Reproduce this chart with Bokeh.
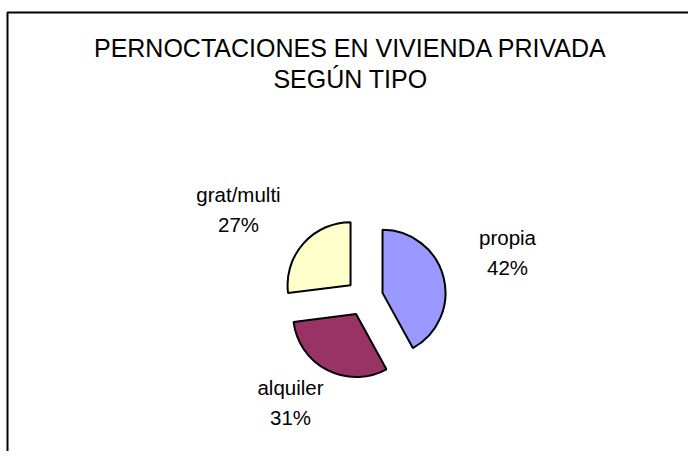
import math
from bokeh.plotting import figure
from bokeh.models import Range1d, BoxAnnotation, ColumnDataSource
from bokeh.core.properties import value
from bokeh.embed import file_html
from bokeh.resources import INLINE

# ---- data ----
title_lines = ["PERNOCTACIONES EN VIVIENDA PRIVADA", "SEGÚN TIPO"]
categories = ["propia", "alquiler", "grat/multi"]
percent = [42, 31, 27]
colors = ["#9999FF", "#993366", "#FFFFCC"]

# ---- layout (pixel-like data units, pie centre at origin) ----
W, H = 688, 451
CX, CY = 364, 297          # pie centre in canvas pixels
RADIUS = 63
EXPLODE = 18.6
LINE_GAP = 30
label_centres = [(143, 45), (-74, -105), (-126, 88)]
title_x = -14
title_y = [250, 219]
FONT = "Liberation Sans"
BORDER_LEFT, BORDER_TOP = 7, 12   # canvas pixels

x_range = Range1d(-CX, W - CX)
y_range = Range1d(CY - H, CY)

p = figure(width=W, height=H, x_range=x_range, y_range=y_range,
           output_backend="svg", toolbar_location=None,
           x_axis_location=None, y_axis_location=None,
           min_border=0)
p.grid.visible = False
p.outline_line_color = None
p.background_fill_color = "white"
p.border_fill_color = "white"

# wedges
total = sum(percent)
xs, ys, starts, ends = [], [], [], []
a = 90.0
for v in percent:
    a0 = a
    a1 = a - 360.0 * v / total
    mid = math.radians((a0 + a1) / 2)
    xs.append(EXPLODE * math.cos(mid))
    ys.append(EXPLODE * math.sin(mid))
    starts.append(math.radians(a1))
    ends.append(math.radians(a0))
    a = a1

src = ColumnDataSource(dict(x=xs, y=ys, start=starts, end=ends, color=colors))
p.wedge(x="x", y="y", radius=RADIUS, start_angle="start", end_angle="end",
        direction="anticlock", fill_color="color", line_color="black",
        line_width=2, source=src)

# labels
lx, ly, lt = [], [], []
for (cx, cy), cat, v in zip(label_centres, categories, percent):
    lx += [cx, cx]
    ly += [cy + LINE_GAP / 2, cy - LINE_GAP / 2]
    lt += [cat, f"{v}%"]
p.text(x=lx, y=ly, text=lt, text_align="center", text_baseline="middle",
       text_font=value(FONT), text_font_size=value("20.5px"), text_color="black")

# title
p.text(x=[title_x, title_x], y=title_y, text=title_lines, text_align="center",
       text_baseline="middle", text_font=value(FONT),
       text_font_size=value("25px"), text_color="black")

# chart-area border (right/bottom run off the picture)
p.add_layout(BoxAnnotation(left=BORDER_LEFT - CX, right=x_range.end + 50,
                           top=CY - BORDER_TOP, bottom=y_range.start - 50,
                           fill_alpha=0, line_color="black", line_alpha=1.0,
                           line_width=2))

open("out.html", "w").write(file_html(p, INLINE))
